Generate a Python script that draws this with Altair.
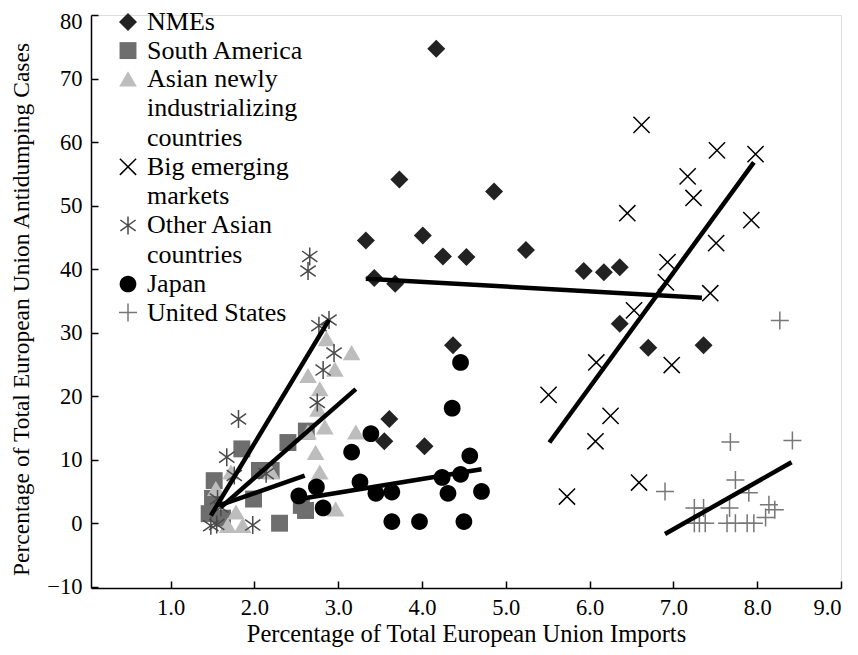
import altair as alt
import pandas as pd

groups = ["NMEs", "South America", "Asian newly industrializing countries",
          "Big emerging markets", "Other Asian countries", "Japan", "United States"]

nme_x = [4.17, 3.73, 4.86, 3.33, 4.01, 4.25, 4.53, 5.24, 3.43, 3.68, 5.93, 6.17, 6.36, 6.36, 6.70, 7.36, 4.37, 3.61, 3.55, 4.03]
nme_y = [74.7, 54.1, 52.2, 44.5, 45.3, 42.0, 41.9, 43.0, 38.6, 37.7, 39.7, 39.5, 40.3, 31.4, 27.6, 28.0, 28.0, 16.4, 12.9, 12.1]

sa_x = [1.85, 2.40, 2.62, 2.06, 2.20, 1.52, 1.99, 1.50, 1.46, 2.30, 2.56, 2.61, 1.62]
sa_y = [11.7, 12.7, 14.5, 8.3, 8.3, 6.7, 3.8, 3.9, 1.5, 0.0, 2.8, 2.0, 0.8]

nic_x = [2.86, 3.16, 2.96, 2.64, 2.78, 2.76, 2.84, 2.64, 3.21, 2.73, 2.78, 2.20, 2.97, 1.72, 1.78, 1.68, 1.86, 1.54]
nic_y = [29.0, 26.8, 24.2, 23.2, 21.1, 17.9, 15.1, 14.3, 14.3, 11.1, 8.0, 8.0, 2.2, 8.0, 1.7, -0.4, -0.4, 5.4]

bem_x = [6.62, 7.52, 7.98, 7.17, 7.24, 6.45, 7.93, 7.51, 6.93, 6.91, 7.44, 6.53, 6.08, 6.98, 5.51, 6.25, 6.07, 6.59, 5.73]
bem_y = [62.7, 58.7, 58.1, 54.6, 51.2, 48.8, 47.7, 44.1, 41.1, 37.9, 36.2, 33.5, 25.3, 24.9, 20.2, 16.9, 12.9, 6.4, 4.2]

oa_x = [2.66, 2.64, 2.89, 2.77, 2.95, 2.82, 2.75, 1.81, 1.67, 1.76, 2.14, 1.56, 1.60, 1.48, 1.55, 1.98]
oa_y = [42.0, 39.7, 32.0, 31.1, 26.8, 24.1, 19.0, 16.4, 10.4, 7.5, 7.8, 3.8, 2.5, -0.4, -0.2, -0.3]

jp_x = [4.46, 4.36, 3.39, 3.16, 4.57, 3.26, 4.24, 4.46, 2.74, 2.53, 3.45, 3.64, 4.31, 4.71, 2.82, 3.64, 3.97, 4.50]
jp_y = [25.3, 18.1, 14.1, 11.2, 10.6, 6.5, 7.2, 7.7, 5.7, 4.3, 4.7, 4.9, 4.7, 5.0, 2.4, 0.25, 0.25, 0.25]

us_x = [8.27, 7.68, 8.42, 7.74, 6.90, 7.90, 7.25, 7.36, 7.67, 8.14, 8.21, 8.10, 7.25, 7.31, 7.38, 7.64, 7.74, 7.88, 7.96]
us_y = [31.9, 12.8, 13.0, 6.8, 5.0, 4.8, 2.4, 2.4, 2.4, 2.9, 2.1, 0.9, 0.0, 0.0, 0.0, 0.0, 0.0, 0.0, 0.0]

# fitted lines (start / end points), same order as groups
fit_x0 = [3.33, 1.58, 1.60, 5.52, 1.48, 2.54, 6.90]
fit_y0 = [38.5, 2.8, 2.5, 12.7, 1.2, 3.8, -1.7]
fit_x1 = [7.34, 2.60, 3.21, 7.96, 2.89, 4.71, 8.41]
fit_y1 = [35.5, 7.5, 21.1, 56.8, 32.0, 8.5, 9.6]

x_ticks = [1, 2, 3, 4, 5, 6, 7, 8, 9]
y_ticks = [-10, 0, 10, 20, 30, 40, 50, 60, 70, 80]

label_lines = {
    "Asian newly industrializing countries": ["Asian newly", "industrializing", "countries"],
    "Big emerging markets": ["Big emerging", "markets"],
    "Other Asian countries": ["Other Asian", "countries"],
}

rows = []
for g, xs, ys in zip(groups, [nme_x, sa_x, nic_x, bem_x, oa_x, jp_x, us_x],
                     [nme_y, sa_y, nic_y, bem_y, oa_y, jp_y, us_y]):
    for xv, yv in zip(xs, ys):
        rows.append({"group": g, "imports": xv, "cases": yv})
df = pd.DataFrame(rows)

fits = pd.DataFrame({"group": groups, "x0": fit_x0, "y0": fit_y0, "x1": fit_x1, "y1": fit_y1})

shapes = [
    "M 0 -1 L 1 0 L 0 1 L -1 0 Z",
    "M -0.94 -0.94 L 0.94 -0.94 L 0.94 0.94 L -0.94 0.94 Z",
    "M 0 -0.88 L 0.98 0.8 L -0.98 0.8 Z",
    "M -0.9 -0.9 L 0.9 0.9 M -0.9 0.9 L 0.9 -0.9",
    "M 0 -1 L 0 1 M -0.85 -0.6 L 0.85 0.6 M -0.85 0.6 L 0.85 -0.6",
    "M 0.93 0 A 0.93 0.93 0 1 1 -0.93 0 A 0.93 0.93 0 1 1 0.93 0 Z",
    "M -1 0 L 1 0 M 0 -1 L 0 1",
]
fills = ["#222222", "#6e6e6e", "#bdbdbd", "transparent", "transparent", "#000000", "transparent"]
strokes = ["transparent", "transparent", "transparent", "#000000", "#4a4a4a", "transparent", "#777777"]

label_expr = ""
for k, v in label_lines.items():
    label_expr += "datum.label === '" + k + "' ? [" + ", ".join("'" + s + "'" for s in v) + "] : "
label_expr += "datum.label"

FONT = "Liberation Serif"
W, H = 750, 573

xscale = alt.Scale(domain=[0.05, 9.0], nice=False, zero=False)
yscale = alt.Scale(domain=[-10.2, 80], nice=False, zero=False)

legend = alt.Legend(
    title=None, orient="none", legendX=24, legendY=-6, padding=0,
    symbolSize=324, symbolStrokeWidth=1.5, labelFontSize=26, labelFont=FONT,
    labelOffset=6, rowPadding=2.6, labelLimit=400, labelExpr=label_expr,
    labelColor="black", labelBaseline="middle",
)

points = alt.Chart(df).mark_point(filled=False, opacity=1, size=324, strokeWidth=1.5).encode(
    x=alt.X("imports:Q", scale=xscale, axis=alt.Axis(
        values=x_ticks, format=".1f", ticks=False, grid=False,
        domainColor="black", domainWidth=1.5, labelPadding=8,
        labelFontSize=22.5, labelFont=FONT, labelColor="black",
        title="Percentage of Total European Union Imports",
        titleFont=FONT, titleFontSize=24.5, titleFontWeight="normal", titleColor="black",
        titleY=53, titleBaseline="alphabetic")),
    y=alt.Y("cases:Q", scale=yscale, axis=alt.Axis(
        values=y_ticks, ticks=False, grid=False,
        domainColor="black", domainWidth=1.5, labelPadding=9,
        labelFlush=1, labelFlushOffset=4.5,
        labelFontSize=22.5, labelFont=FONT, labelColor="black",
        title="Percentage of Total European Union Antidumping Cases",
        titleFont=FONT, titleFontSize=23.5, titleFontWeight="normal", titleColor="black",
        titleX=-63, titleY=294, titleBaseline="alphabetic")),
    shape=alt.Shape("group:N", scale=alt.Scale(domain=groups, range=shapes), legend=legend),
    fill=alt.Fill("group:N", scale=alt.Scale(domain=groups, range=fills), legend=legend),
    stroke=alt.Stroke("group:N", scale=alt.Scale(domain=groups, range=strokes), legend=legend),
)

lines = alt.Chart(fits).mark_rule(color="black", strokeWidth=4.5).encode(
    x=alt.X("x0:Q", scale=xscale, axis=alt.Axis(
        orient="top", offset=-H, values=x_ticks, labels=False, domain=False, grid=False,
        ticks=True, tickSize=7, tickColor="black", tickWidth=1.5, title=None)),
    x2="x1:Q",
    y=alt.Y("y0:Q", scale=yscale, axis=alt.Axis(
        orient="right", offset=-W, values=y_ticks, labels=False, domain=False, grid=False,
        ticks=True, tickSize=7, tickColor="black", tickWidth=1.5, title=None)),
    y2="y1:Q",
)

chart = alt.layer(points, lines).resolve_axis(x="independent", y="independent").properties(
    width=W, height=H,
    autosize=alt.AutoSizeParams(type="none"),
    padding={"left": 83, "top": 7, "right": 9, "bottom": 59},
    background="white",
).configure_view(stroke="transparent").configure(
    style={"guide-label": {"lineHeight": 29.3}}
)

chart.save("out.html", embed_options={"renderer": "svg", "actions": False})
